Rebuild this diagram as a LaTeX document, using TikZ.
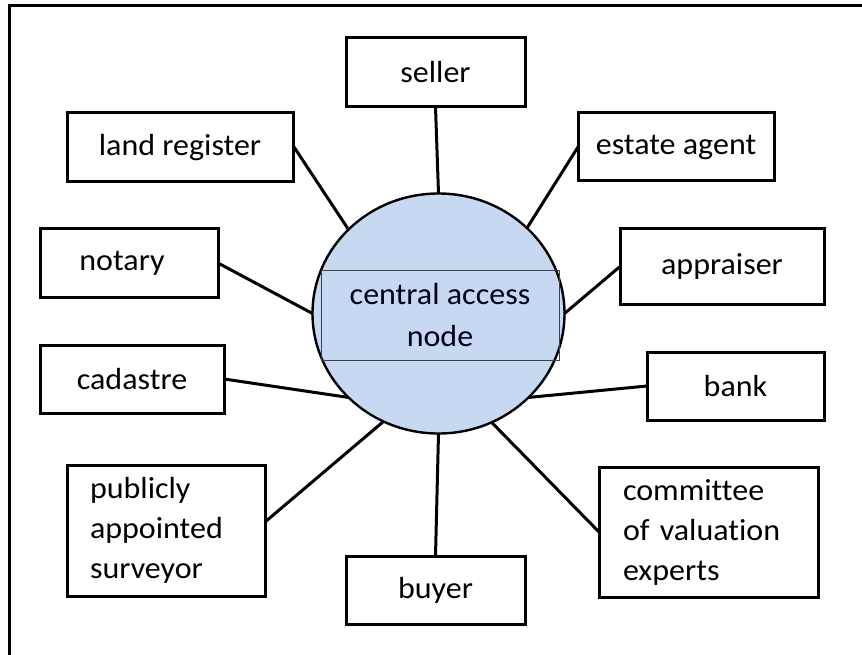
\documentclass[tikz,border=0pt]{standalone}
\usepackage{fontspec}
\setmainfont[FakeStretch=1.05,Ligatures=NoCommon]{Carlito}
\usetikzlibrary{shapes.geometric,calc}
\definecolor{hubfill}{HTML}{C6D9F0}
\definecolor{hubline}{HTML}{3A4250}
\begin{document}
\begin{tikzpicture}[x=1pt,y=-1pt,
  box/.style={draw=black,line width=3pt,rectangle,inner sep=0pt,outer sep=0pt,
    font=\fontsize{30.5}{40}\selectfont,align=center},
  multibox/.style={draw=black,line width=3pt,rectangle,inner xsep=23pt,inner ysep=0pt,outer sep=0pt,
    font=\fontsize{30.5}{40}\selectfont,align=left},
  link/.style={draw=black,line width=3pt}]
\useasboundingbox (0,0) rectangle (862,655);
\draw[line width=3pt] (9,655) -- (9,6) -- (862,6);

\node[ellipse,draw=black,line width=2.4pt,fill=hubfill,minimum width=252pt,minimum height=240pt,inner sep=0pt,outer sep=0pt] (hub) at (438.5,313.5) {};
\node[draw=hubline,line width=1pt,rectangle,minimum width=238pt,minimum height=90pt,inner sep=0pt,
  font=\fontsize{30.5}{42}\selectfont,align=center,text=black!90!blue] (hubtext) at (440,315) {central access\\node};

\node[box,minimum width=179pt,minimum height=69pt] (seller) at (435.5,72.5) {seller};
\node[box,minimum width=226pt,minimum height=69pt] (land) at (180,147.5) {land register};
\node[box,minimum width=196pt,minimum height=68pt] (estate) at (676,147) {estate agent};
\node[box,minimum width=178pt,minimum height=68pt] (notary) at (129,263) {notary\hspace*{14pt}};
\node[box,minimum width=184pt,minimum height=68pt] (cadastre) at (132,379) {cadastre};
\node[box,minimum width=204pt,minimum height=75pt] (appraiser) at (722,266.5) {appraiser};
\node[box,minimum width=177pt,minimum height=68pt] (bank) at (735.5,386) {bank};
\node[multibox,text width=152pt,minimum height=131pt] (surveyor) at (166,530.5) {publicly\\appointed\\surveyor};
\node[box,minimum width=179pt,minimum height=68pt] (buyer) at (435.5,590) {buyer};
\node[multibox,inner xsep=24pt,text width=171pt,minimum height=130pt] (committee) at (708.5,532) {committee\\of valuation\\experts};

\draw[link] (seller.south) -- (hub.90);
\draw[link] (estate.west) -- (hub.44);
\draw[link] ($(land.east)+(0,-2)$) -- (hub.137);
\draw[link] (notary.east) -- (hub.180);
\draw[link] (appraiser.west) -- (hub.0);
\draw[link] (cadastre.east) -- (hub.223);
\draw[link] (bank.west) -- (hub.317);
\draw[link] ($(surveyor.east)+(0,-8.5)$) -- (hub.243);
\draw[link] (buyer.north) -- (hub.270);
\draw[link] (committee.west) -- (hub.296);
\end{tikzpicture}
\end{document}
